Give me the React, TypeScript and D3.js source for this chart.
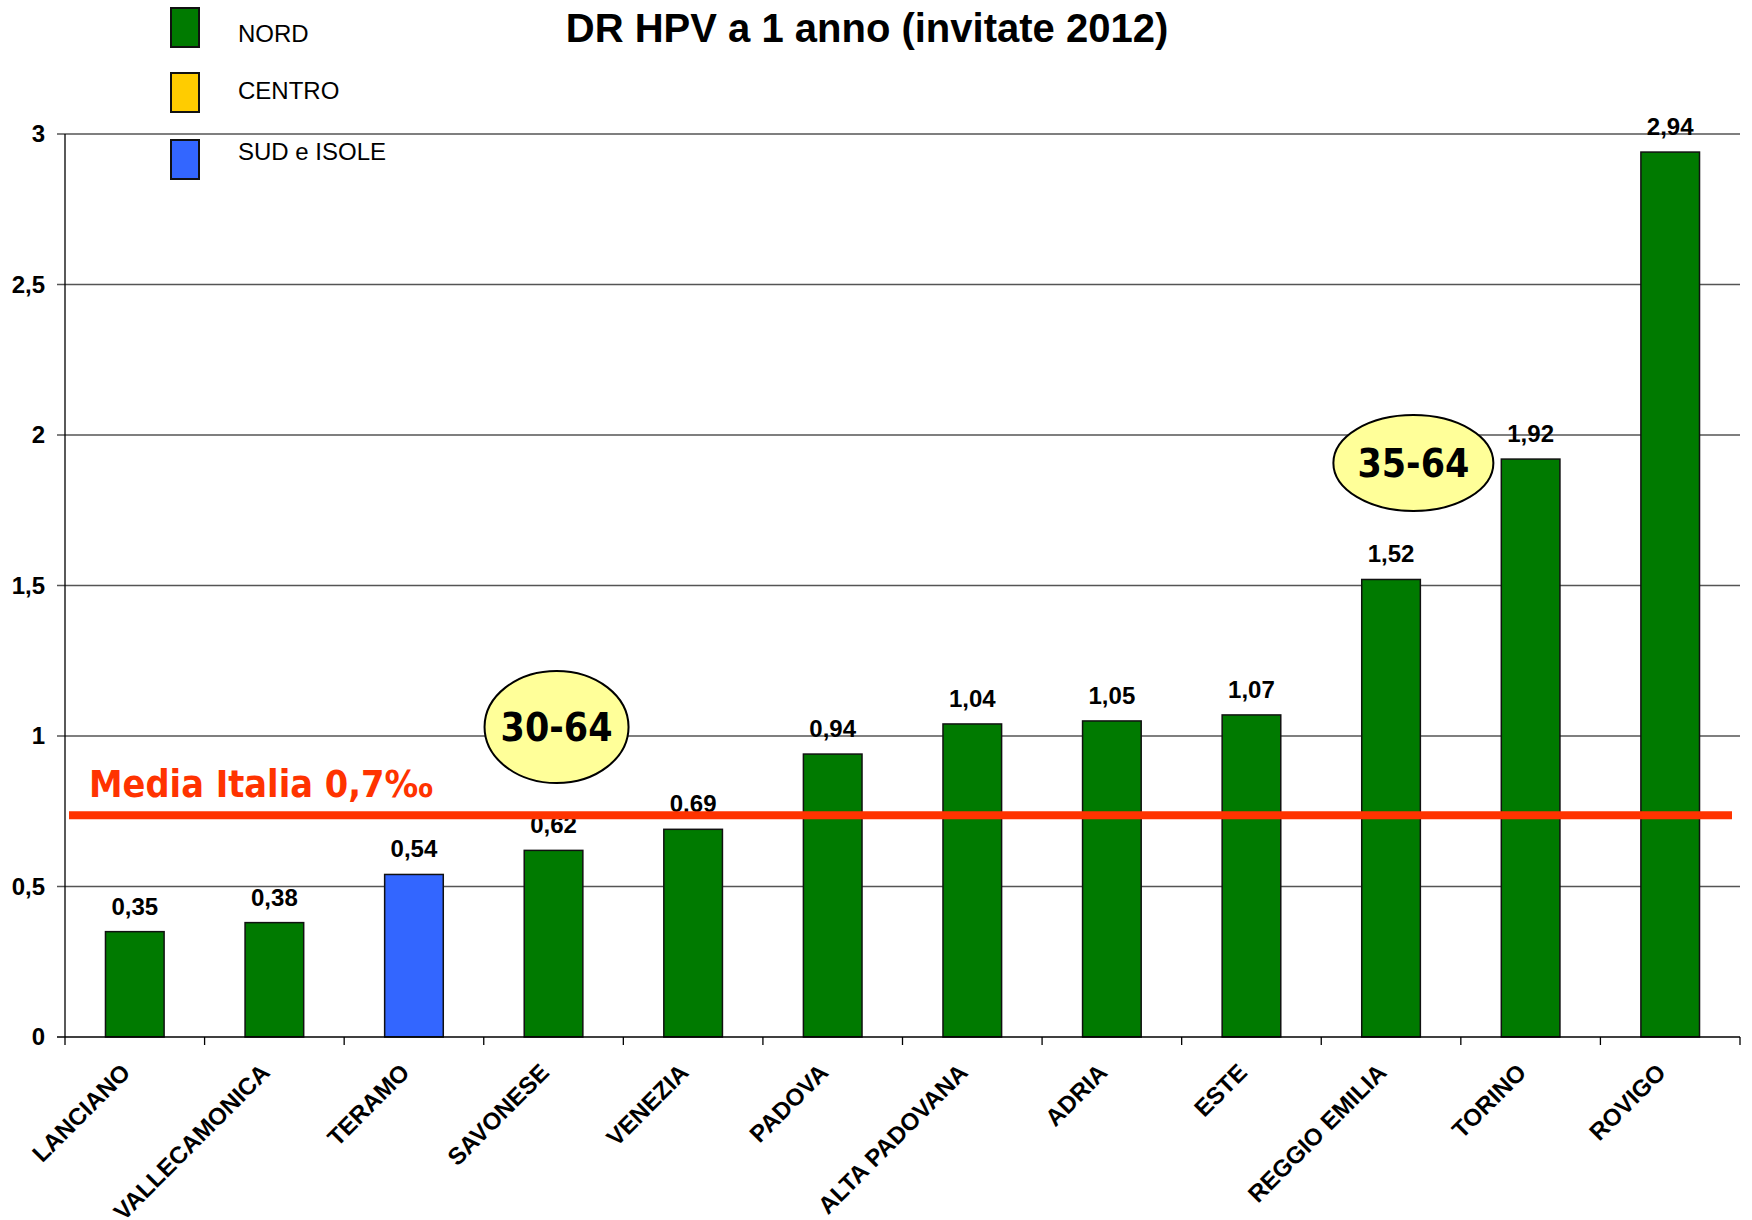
import React from 'react';
import * as d3 from 'd3';

const categories = ['LANCIANO', 'VALLECAMONICA', 'TERAMO', 'SAVONESE', 'VENEZIA', 'PADOVA', 'ALTA PADOVANA', 'ADRIA', 'ESTE', 'REGGIO EMILIA', 'TORINO', 'ROVIGO'];
const values = [0.35, 0.38, 0.54, 0.62, 0.69, 0.94, 1.04, 1.05, 1.07, 1.52, 1.92, 2.94];
const areas = ['NORD', 'NORD', 'SUD e ISOLE', 'NORD', 'NORD', 'NORD', 'NORD', 'NORD', 'NORD', 'NORD', 'NORD', 'NORD'];
const legendAreas = ['NORD', 'CENTRO', 'SUD e ISOLE'];
const areaColors = ['#007A00', '#FFCC00', '#3366FF'];
const yTicks = [0, 0.5, 1, 1.5, 2, 2.5, 3];
const mediaItalia = 0.737;
const mediaLabel = 'Media Italia 0,7‰';
const ageBubbles = ['30-64', '35-64'];

const W = 1752, H = 1220;
const left = 65, right = 1740, top = 134, bottom = 1037;

const comma = (v: number) => String(v).replace('.', ',');
const comma2 = (v: number) => d3.format('.2f')(v).replace('.', ',');

export default function App() {
    const x = d3.scaleBand().domain(categories).range([left, right]).paddingInner(0.58).paddingOuter(0.29);
    const y = d3.scaleLinear().domain([0, 3]).range([bottom, top]);
    const color = d3.scaleOrdinal<string, string>().domain(legendAreas).range(areaColors);
    const step = x.step();
    const boundaries = d3.range(categories.length + 1).map(i => left + i * step);
    const font = 'Arial, "Liberation Sans", sans-serif';
    const comic = '"Comic Sans MS", "DejaVu Sans", sans-serif';
    const mid = (c: string) => (x(c) as number) + x.bandwidth() / 2;

    // bubbles: one over SAVONESE, one between REGGIO EMILIA and TORINO
    const bubbles = [
        {cx: mid('SAVONESE') + 3, cy: 727, rx: 72, ry: 56},
        {cx: mid('REGGIO EMILIA') + 0.16 * step, cy: 463, rx: 80, ry: 48},
    ];

    return (
        <svg width={W} height={H} style={{position: 'absolute', left: 0, top: 0, background: '#fff'}}>
            {/* gridlines + y ticks */}
            {yTicks.map(t => (
                <g key={t}>
                    {t > 0 && <line x1={left - 8} x2={right} y1={y(t)} y2={y(t)} stroke="#555" strokeWidth={1.3} />}
                    <text x={45} y={y(t)} dy="0.35em" textAnchor="end" fontFamily={font} fontWeight="bold" fontSize={24} fill="#000">
                        {comma(t)}
                    </text>
                </g>
            ))}
            {/* bars */}
            {categories.map((c, i) => (
                <rect key={c} x={x(c)} y={y(values[i])} width={x.bandwidth()} height={bottom - y(values[i])}
                      fill={color(areas[i])} stroke="#111" strokeWidth={1.5} />
            ))}
            {/* axes */}
            <line x1={left} x2={left} y1={top} y2={bottom} stroke="#000" strokeWidth={1.3} />
            <line x1={left - 8} x2={right} y1={bottom} y2={bottom} stroke="#000" strokeWidth={1.5} />
            {boundaries.map((bx, i) => (
                <line key={i} x1={bx} x2={bx} y1={bottom} y2={bottom + 8} stroke="#000" strokeWidth={1.3} />
            ))}
            {/* x labels */}
            {categories.map(c => (
                <text key={c} transform={`translate(${mid(c) - 3},${bottom + 37}) rotate(-45)`} textAnchor="end"
                      fontFamily={font} fontWeight="bold" fontSize={24} fill="#000">{c}</text>
            ))}
            {/* value labels */}
            {categories.map((c, i) => (
                <text key={c} x={mid(c)} y={y(values[i]) - 17} textAnchor="middle"
                      fontFamily={font} fontWeight="bold" fontSize={24} fill="#000">{comma2(values[i])}</text>
            ))}
            {/* media line */}
            <line x1={69} x2={right - 8} y1={y(mediaItalia)} y2={y(mediaItalia)} stroke="#FF3300" strokeWidth={8} />
            <text x={89} y={797} fontFamily={comic} fontWeight="bold" fontSize={37} fill="#FF3300"
                  textLength={344} lengthAdjust="spacingAndGlyphs">{mediaLabel}</text>
            {/* age bubbles */}
            {ageBubbles.map((label, i) => {
                const b = bubbles[i];
                return (
                    <g key={label}>
                        <ellipse cx={b.cx} cy={b.cy} rx={b.rx} ry={b.ry} fill="#FFFF99" stroke="#000" strokeWidth={2} />
                        <text x={b.cx} y={b.cy + 14} textAnchor="middle" fontFamily={comic} fontWeight="bold" fontSize={39}
                              fill="#000" textLength={112} lengthAdjust="spacingAndGlyphs">{label}</text>
                    </g>
                );
            })}
            {/* title */}
            <text x={867} y={42} textAnchor="middle" fontFamily={font} fontWeight="bold" fontSize={40} fill="#000">
                DR HPV a 1 anno (invitate 2012)
            </text>
            {/* legend */}
            {legendAreas.map((a, i) => (
                <g key={a}>
                    <rect x={171} y={[8, 73, 140][i]} width={28} height={39} fill={areaColors[i]} stroke="#111" strokeWidth={2} />
                    <text x={238} y={[42, 99, 160][i]} fontFamily={font} fontSize={24} fill="#000">{a}</text>
                </g>
            ))}
        </svg>
    );
}
